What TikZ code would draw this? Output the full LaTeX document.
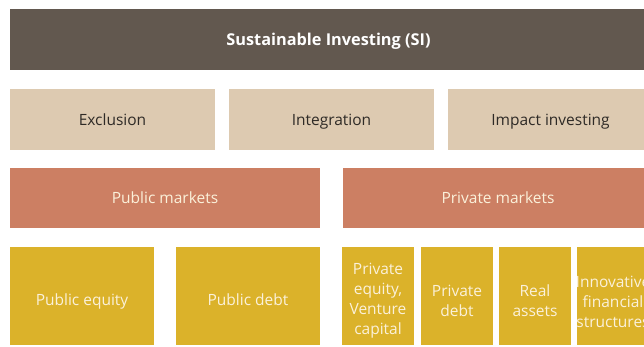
\documentclass[tikz,border=0pt]{standalone}
\usepackage{fontspec}
\setmainfont{Open Sans}
\definecolor{topc}{HTML}{62584F}
\definecolor{beige}{HTML}{DDCAB1}
\definecolor{terra}{HTML}{CC7F63}
\definecolor{mustard}{HTML}{DBB22A}
\definecolor{darktxt}{HTML}{2E2A26}
\definecolor{lighttxt}{HTML}{FBF1DA}
\tikzset{
  box/.style={inner sep=0pt, outer sep=0pt, align=center, font=\fontsize{15.5}{20}\selectfont},
  oneline/.style={text height=14pt, text depth=3pt},
  topbox/.style={box, oneline, fill=topc, text=white, font=\fontsize{16.3}{20}\selectfont\bfseries},
  approach/.style={box, oneline, fill=beige, text=darktxt},
  market/.style={box, oneline, fill=terra, text=lighttxt},
  asset/.style={box, fill=mustard},
  assettext/.style={box, text=lighttxt},
}
\begin{document}
\begin{tikzpicture}[x=1pt,y=-1pt]
\useasboundingbox (0,0) rectangle (644,346);
\clip (0,0) rectangle (644,346);
% top
\node[topbox, minimum width=637pt, minimum height=61pt, anchor=north west] (si) at (10,9) {Sustainable Investing (SI)};
% approaches
\node[approach, minimum width=205pt, minimum height=61pt, anchor=north west] (excl) at (10,89) {Exclusion};
\node[approach, minimum width=205pt, minimum height=61pt, anchor=north west] (integ) at (229,89) {Integration};
\node[approach, minimum width=205pt, minimum height=61pt, anchor=north west] (impact) at (448,89) {Impact investing};
% markets
\node[market, minimum width=310pt, minimum height=60pt, anchor=north west] (pub) at (10,168) {Public markets};
\node[market, minimum width=310pt, minimum height=60pt, anchor=north west] (priv) at (343,168) {Private markets};
% asset boxes
\node[asset, minimum width=144pt, minimum height=98pt, anchor=north west] (pe) at (10,247) {};
\node[asset, minimum width=144pt, minimum height=98pt, anchor=north west] (pd) at (176,247) {};
\node[asset, minimum width=72pt, minimum height=98pt, anchor=north west] (prie) at (342,247) {};
\node[asset, minimum width=72pt, minimum height=98pt, anchor=north west] (prid) at (421,247) {};
\node[asset, minimum width=72pt, minimum height=98pt, anchor=north west] (real) at (499,247) {};
\node[asset, minimum width=72pt, minimum height=98pt, anchor=north west] (innov) at (577,247) {};
% asset texts
\node[assettext, oneline] (tpe) at ([yshift=-4pt]pe.center) {Public equity};
\node[assettext, oneline] (tpd) at ([yshift=-4pt]pd.center) {Public debt};
\node[assettext] (tprie) at ([yshift=-5pt]prie.center) {Private\\equity,\\Venture\\capital};
\node[assettext] (tprid) at ([yshift=-5pt]prid.center) {Private\\debt};
\node[assettext] (treal) at ([yshift=-5pt]real.center) {Real\\assets};
\node[assettext] (tinnov) at ([yshift=-6pt]innov.center) {Innovative\\financial\\structures};
\end{tikzpicture}
\end{document}
